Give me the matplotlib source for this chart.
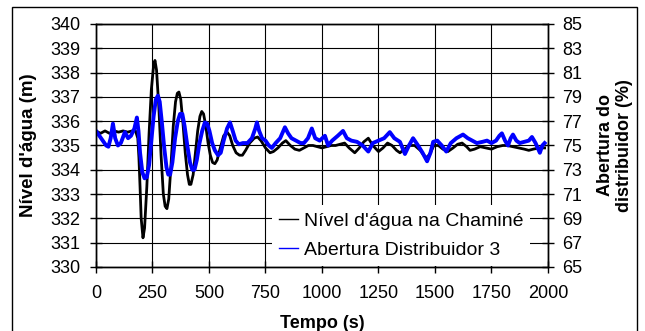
import matplotlib
matplotlib.use("Agg")
import matplotlib.pyplot as plt
from matplotlib.patches import Rectangle

plt.rcParams['font.family'] = ['Liberation Sans', 'DejaVu Sans']

# Nível d'água na chaminé (m)
t_nivel = [0, 20, 40, 60, 80, 100, 120, 140, 160, 175, 185, 190, 195, 200, 208,
           215, 225, 235, 245, 255, 261, 268, 278, 288, 298, 306, 314, 322, 332,
           342, 352, 360, 367, 375, 385, 395, 405, 413, 420, 430, 440, 450, 460,
           468, 476, 486, 496, 506, 516, 526, 536, 550, 565, 580, 592, 605, 620,
           635, 648, 662, 680, 700, 715, 730, 750, 770, 785, 805, 825, 840, 860,
           880, 900, 920, 940, 960, 980, 1000, 1020, 1040, 1060, 1080, 1100, 1120,
           1145, 1165, 1185, 1205, 1225, 1250, 1270, 1290, 1310, 1330, 1345, 1365,
           1385, 1410, 1435, 1450, 1465, 1480, 1495, 1515, 1535, 1557, 1580, 1600,
           1620, 1640, 1655, 1675, 1700, 1725, 1750, 1775, 1800, 1820, 1845, 1870,
           1895, 1915, 1935, 1960, 1985]
nivel = [335.6, 335.5, 335.6, 335.5, 335.6, 335.55, 335.6, 335.55, 335.6, 335.6,
         335.3, 334.5, 333.3, 332.0, 331.2, 331.6, 333.3, 335.5, 337.3, 338.3,
         338.5, 338.1, 336.6, 334.6, 333.0, 332.5, 332.4, 332.8, 334.2, 335.8,
         336.8, 337.15, 337.2, 336.9, 335.9, 334.7, 333.8, 333.4, 333.4, 333.8,
         334.7, 335.6, 336.2, 336.4, 336.3, 335.8, 335.1, 334.6, 334.3, 334.25,
         334.4, 334.9, 335.4, 335.55, 335.4, 335.0, 334.7, 334.6, 334.6, 334.8,
         335.1, 335.3, 335.35, 335.2, 334.9, 334.7, 334.75, 334.9, 335.1, 335.2,
         335.0, 334.85, 334.8, 334.9, 335.0, 335.0, 334.95, 334.9, 334.95, 335.0,
         335.0, 335.05, 335.1, 334.9, 334.7, 334.9, 335.15, 335.3, 335.0, 334.75,
         334.9, 335.1, 335.0, 334.8, 334.7, 334.85, 335.0, 335.0, 334.8, 334.6,
         334.5, 334.7, 335.0, 335.0, 334.85, 334.75, 334.9, 335.05, 335.1, 334.95,
         334.8, 334.85, 334.95, 334.9, 334.85, 334.95, 335.0, 335.0, 334.95, 334.9,
         334.85, 334.8, 334.85, 334.9, 334.9]

# Abertura do distribuidor 3 (%)
t_abertura = [0, 15, 30, 45, 55, 65, 75, 85, 97, 110, 128, 142, 155, 170, 181,
              188, 195, 205, 215, 225, 235, 245, 255, 265, 274, 282, 292, 302,
              312, 320, 328, 338, 350, 362, 372, 382, 392, 404, 416, 426, 436,
              446, 458, 470, 482, 492, 502, 514, 526, 540, 552, 565, 580, 593,
              605, 618, 632, 650, 670, 690, 705, 712, 722, 735, 750, 765, 778,
              795, 815, 836, 850, 865, 885, 905, 920, 938, 955, 970, 990, 1013,
              1027, 1045, 1070, 1093, 1110, 1130, 1155, 1180, 1205, 1225, 1250,
              1275, 1300, 1320, 1345, 1367, 1385, 1403, 1425, 1445, 1465, 1480,
              1492, 1510, 1530, 1550, 1570, 1595, 1624, 1645, 1665, 1685, 1710,
              1730, 1750, 1770, 1785, 1796, 1810, 1823, 1835, 1845, 1860, 1875,
              1895, 1915, 1929, 1945, 1964, 1975, 1985]
abertura = [76.2, 75.8, 75.4, 75.0, 74.9, 75.6, 76.8, 75.6, 75.0, 75.2, 76.1,
            75.6, 75.8, 76.4, 77.3, 76.2, 74.4, 72.8, 72.3, 72.4, 73.4, 75.4,
            77.4, 78.8, 79.1, 78.6, 76.8, 74.8, 73.2, 72.6, 72.6, 73.6, 75.6,
            77.0, 77.6, 77.6, 76.6, 75.0, 73.6, 73.0, 73.0, 73.8, 75.2, 76.2,
            76.9, 76.8, 76.2, 75.2, 74.6, 74.2, 74.4, 75.4, 76.4, 76.9, 76.2,
            75.4, 75.1, 75.2, 75.2, 75.6, 76.4, 76.9, 76.2, 75.6, 75.4, 75.0,
            74.8, 75.2, 75.6, 76.5, 76.0, 75.6, 75.4, 75.2, 75.2, 75.6, 76.4,
            75.6, 75.4, 75.8, 75.0, 75.4, 75.8, 76.2, 75.6, 75.4, 75.3, 75.0,
            74.5, 75.2, 75.4, 75.6, 76.1, 75.6, 75.3, 74.3, 75.0, 75.6, 75.0,
            74.4, 73.7, 74.4, 75.3, 75.4, 75.0, 74.5, 75.2, 75.6, 75.9, 75.6,
            75.4, 75.2, 75.3, 75.4, 75.2, 75.4, 75.8, 76.0, 75.4, 75.0, 75.6,
            75.9, 75.4, 75.2, 75.3, 75.4, 75.7, 75.2, 74.4, 75.0, 75.2]

x_ticks = [0, 250, 500, 750, 1000, 1250, 1500, 1750, 2000]
left_ticks = list(range(330, 341))
right_ticks = list(range(65, 86, 2))

fig = plt.figure(figsize=(6.45, 3.31), dpi=100)
ax = fig.add_axes([0.1488, 0.1934, 0.7008, 0.7341])
ax2 = ax.twinx()

l1, = ax.plot(t_nivel, nivel, color='black', lw=2.0, label="Nível d'água na Chaminé")
l2, = ax2.plot(t_abertura, abertura, color='#0000ff', lw=2.8, label='Abertura Distribuidor 3')

ax.set_xlim(0, 2000)
ax.set_ylim(330, 340)
ax2.set_ylim(65, 85)
ax.set_xticks(x_ticks)
ax.set_yticks(left_ticks)
ax2.set_yticks(right_ticks)

ax.grid(True, color='black', lw=0.8)
ax.set_axisbelow(True)
ax.tick_params(axis='both', direction='inout', length=8, width=1, labelsize=13, color='black')
ax.tick_params(axis='x', pad=9)
ax.tick_params(axis='y', pad=7)
ax2.tick_params(axis='y', direction='inout', length=8, width=1, labelsize=13, pad=6.5)
for a in (ax, ax2):
    for s in a.spines.values():
        s.set_linewidth(1)

ax.set_xlabel('Tempo (s)', fontsize=13, fontweight='bold', labelpad=9)
ax.set_ylabel("Nível d'água (m)", fontsize=13.5, fontweight='bold', labelpad=10)
ax2.set_ylabel('Abertura do\ndistribuidor (%)', fontsize=13, fontweight='bold', labelpad=10)

leg = ax2.legend(handles=[l1, l2], loc='lower left',
                 bbox_to_anchor=(272 / 645, 65 / 331), bbox_transform=fig.transFigure,
                 fontsize=14, frameon=True, fancybox=False, framealpha=1,
                 facecolor='white', edgecolor='none', borderpad=0.35,
                 handlelength=1.0, handletextpad=0.28, labelspacing=0.62,
                 borderaxespad=0)
for h in leg.legend_handles:
    h.set_linewidth(1)

# outer frame of the figure
fig.patches.append(Rectangle((12 / 645, -0.05), 625 / 645, 1.05 - 7 / 331,
                             transform=fig.transFigure, fill=False,
                             edgecolor='black', lw=1))

fig.savefig('out.png', dpi=100)
